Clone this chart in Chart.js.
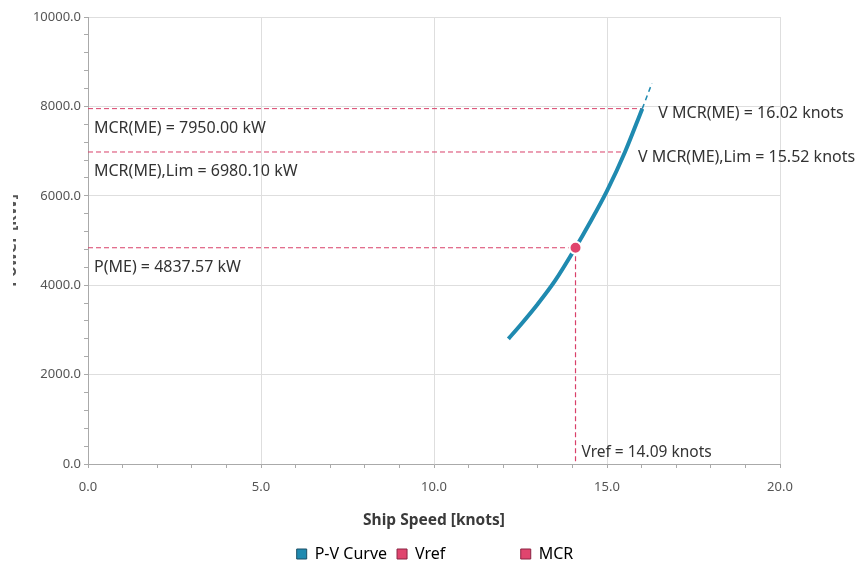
<!DOCTYPE html>
<html>
<head>
<meta charset="utf-8">
<script src="https://cdn.jsdelivr.net/npm/chart.js@4/dist/chart.umd.min.js"></script>
<style>
  html, body { margin: 0; padding: 0; background: #fff; }
  #wrap { width: 855px; height: 572px; position: relative; }
</style>
</head>
<body>
<div id="wrap"><canvas id="c" width="855" height="572"></canvas></div>
<script>
// Propeller power / ship speed curve
const curveSpeed = [12.15, 12.5, 13.0, 13.5, 14.09, 14.5, 15.0, 15.52, 16.02];
const curvePower = [2800, 3110, 3580, 4100, 4837.57, 5390, 6110, 6980.1, 7950];
// thin dashed continuation beyond MCR
const extSpeed = [16.02, 16.3];
const extPower = [7950, 8520];

// reference operating point and MCR limits
const vRef = 14.09, pRef = 4837.57;
const vMcr = 16.02, pMcr = 7950.00;
const vMcrLim = 15.52, pMcrLim = 6980.10;

const xMajor = [0, 5, 10, 15, 20];
const yMajor = [0, 2000, 4000, 6000, 8000, 10000];

const FONT = '"Noto Sans", "Open Sans", sans-serif';
const BLUE = '#1f8ab0';
const PINK = '#d9406a';

const toXY = (xs, ys) => xs.map((x, i) => ({ x, y: ys[i] }));

// annotation texts placed next to the reference lines
const annotations = {
  id: 'annotations',
  afterDatasetsDraw(chart) {
    const { ctx, scales: { x, y } } = chart;
    ctx.save();
    ctx.font = '16px ' + FONT;
    ctx.fillStyle = '#333';
    ctx.textAlign = 'left';
    ctx.textBaseline = 'middle';
    const left = x.left + 6;
    ctx.fillText('MCR(ME) = ' + pMcr.toFixed(2) + ' kW', left, y.getPixelForValue(pMcr) + 20);
    ctx.fillText('MCR(ME),Lim = ' + pMcrLim.toFixed(2) + ' kW', left, y.getPixelForValue(pMcrLim) + 19);
    ctx.fillText('P(ME) = ' + pRef.toFixed(2) + ' kW', left, y.getPixelForValue(pRef) + 20);
    ctx.fillText('V MCR(ME) = ' + vMcr.toFixed(2) + ' knots', x.getPixelForValue(vMcr) + 16, y.getPixelForValue(pMcr) + 5);
    ctx.fillText('V MCR(ME),Lim = ' + vMcrLim.toFixed(2) + ' knots', x.getPixelForValue(vMcrLim) + 13, y.getPixelForValue(pMcrLim) + 5);
    ctx.font = '15.5px ' + FONT;
    ctx.fillText('Vref = ' + vRef.toFixed(2) + ' knots', x.getPixelForValue(vRef) + 6, y.bottom - 11);
    ctx.restore();
  }
};

// vertical axis title, partly cut off at the left edge
const yTitle = {
  id: 'yTitle',
  afterDraw(chart) {
    const { ctx, chartArea } = chart;
    ctx.save();
    ctx.beginPath();
    ctx.rect(13, 0, 20, chart.height);
    ctx.clip();
    ctx.translate(11, (chartArea.top + chartArea.bottom) / 2);
    ctx.rotate(-Math.PI / 2);
    ctx.font = 'bold 16.5px ' + FONT;
    ctx.fillStyle = '#555';
    ctx.textAlign = 'center';
    ctx.textBaseline = 'middle';
    ctx.fillText('Power [kW]', 0, 0);
    ctx.restore();
  }
};

// the legend row sits a little right of the canvas centre
const legendOffset = {
  id: 'legendOffset',
  afterLayout(chart) {
    const l = chart.legend;
    if (l) { l.left += 45; l.right += 45; }
  }
};

new Chart(document.getElementById('c'), {
  type: 'scatter',
  data: {
    datasets: [
      {
        label: 'MCR point',
        data: [{ x: vRef, y: pRef }],
        showLine: false,
        pointRadius: 6,
        pointBackgroundColor: '#e0456e',
        pointBorderColor: '#fff',
        pointBorderWidth: 2,
        order: 0
      },
      {
        label: 'P-V Curve',
        data: toXY(curveSpeed, curvePower),
        showLine: true,
        borderColor: BLUE,
        borderWidth: 4,
        pointRadius: 0,
        cubicInterpolationMode: 'monotone',
        order: 1
      },
      {
        label: 'extension',
        data: toXY(extSpeed, extPower),
        showLine: true,
        borderColor: BLUE,
        borderWidth: 1.5,
        borderDash: [5, 4],
        pointRadius: 0,
        order: 2
      },
      {
        label: 'Vref',
        data: [{ x: 0, y: pRef }, { x: vRef, y: pRef }, { x: vRef, y: 0 }],
        showLine: true,
        borderColor: PINK,
        borderWidth: 1.2,
        borderDash: [5, 3],
        pointRadius: 0,
        order: 3
      },
      {
        label: 'MCR',
        data: [{ x: 0, y: pMcr }, { x: vMcr, y: pMcr }],
        showLine: true,
        borderColor: PINK,
        borderWidth: 1,
        borderDash: [5, 3],
        pointRadius: 0,
        order: 3
      },
      {
        label: 'MCR Lim',
        data: [{ x: 0, y: pMcrLim }, { x: vMcrLim, y: pMcrLim }],
        showLine: true,
        borderColor: PINK,
        borderWidth: 1,
        borderDash: [5, 3],
        pointRadius: 0,
        order: 3
      }
    ]
  },
  options: {
    responsive: false,
    animation: false,
    devicePixelRatio: 1,
    layout: { padding: { top: 17, right: 75, left: 0, bottom: 0 } },
    plugins: {
      tooltip: { enabled: false },
      legend: {
        position: 'bottom',
        labels: {
          font: { family: FONT, size: 16 },
          color: '#555',
          boxWidth: 10,
          boxHeight: 10,
          padding: 10,
          generateLabels() {
            return [
              { text: 'P-V Curve', fillStyle: BLUE, strokeStyle: '#1b4f66', lineWidth: 1 },
              { text: 'Vref', fillStyle: '#e0456e', strokeStyle: '#8a2443', lineWidth: 1 },
              { text: '         ', fillStyle: 'rgba(0,0,0,0)', strokeStyle: 'rgba(0,0,0,0)', lineWidth: 0 },
              { text: 'MCR', fillStyle: '#e0456e', strokeStyle: '#8a2443', lineWidth: 1 }
            ];
          }
        }
      }
    },
    scales: {
      x: {
        type: 'linear',
        min: 0, max: 20,
        afterFit(s) { s.height = 72; },
        ticks: {
          stepSize: 1,
          autoSkip: false,
          maxRotation: 0,
          padding: 11,
          color: '#555',
          font: { family: FONT, size: 13 },
          callback: v => xMajor.includes(v) ? v.toFixed(1) : ''
        },
        grid: {
          color: c => (c.tick && xMajor.includes(c.tick.value)) ? '#dedede' : 'rgba(0,0,0,0)',
          tickColor: '#aaa',
          tickLength: 4
        },
        border: { color: '#aaa' },
        title: {
          display: true,
          text: 'Ship Speed [knots]',
          color: '#3a3a3a',
          font: { family: FONT, size: 15.5, weight: 'bold' },
          padding: { top: 4, bottom: 6 }
        }
      },
      y: {
        type: 'linear',
        min: 0, max: 10000,
        afterFit(s) { s.width = 88; },
        ticks: {
          stepSize: 400,
          autoSkip: false,
          padding: 3,
          color: '#555',
          font: { family: FONT, size: 13 },
          callback: v => yMajor.includes(v) ? v.toFixed(1) : ''
        },
        grid: {
          color: c => (c.tick && yMajor.includes(c.tick.value)) ? '#dedede' : 'rgba(0,0,0,0)',
          tickColor: '#aaa',
          tickLength: 4
        },
        border: { color: '#aaa' }
      }
    }
  },
  plugins: [annotations, yTitle, legendOffset]
});
</script>
</body>
</html>
